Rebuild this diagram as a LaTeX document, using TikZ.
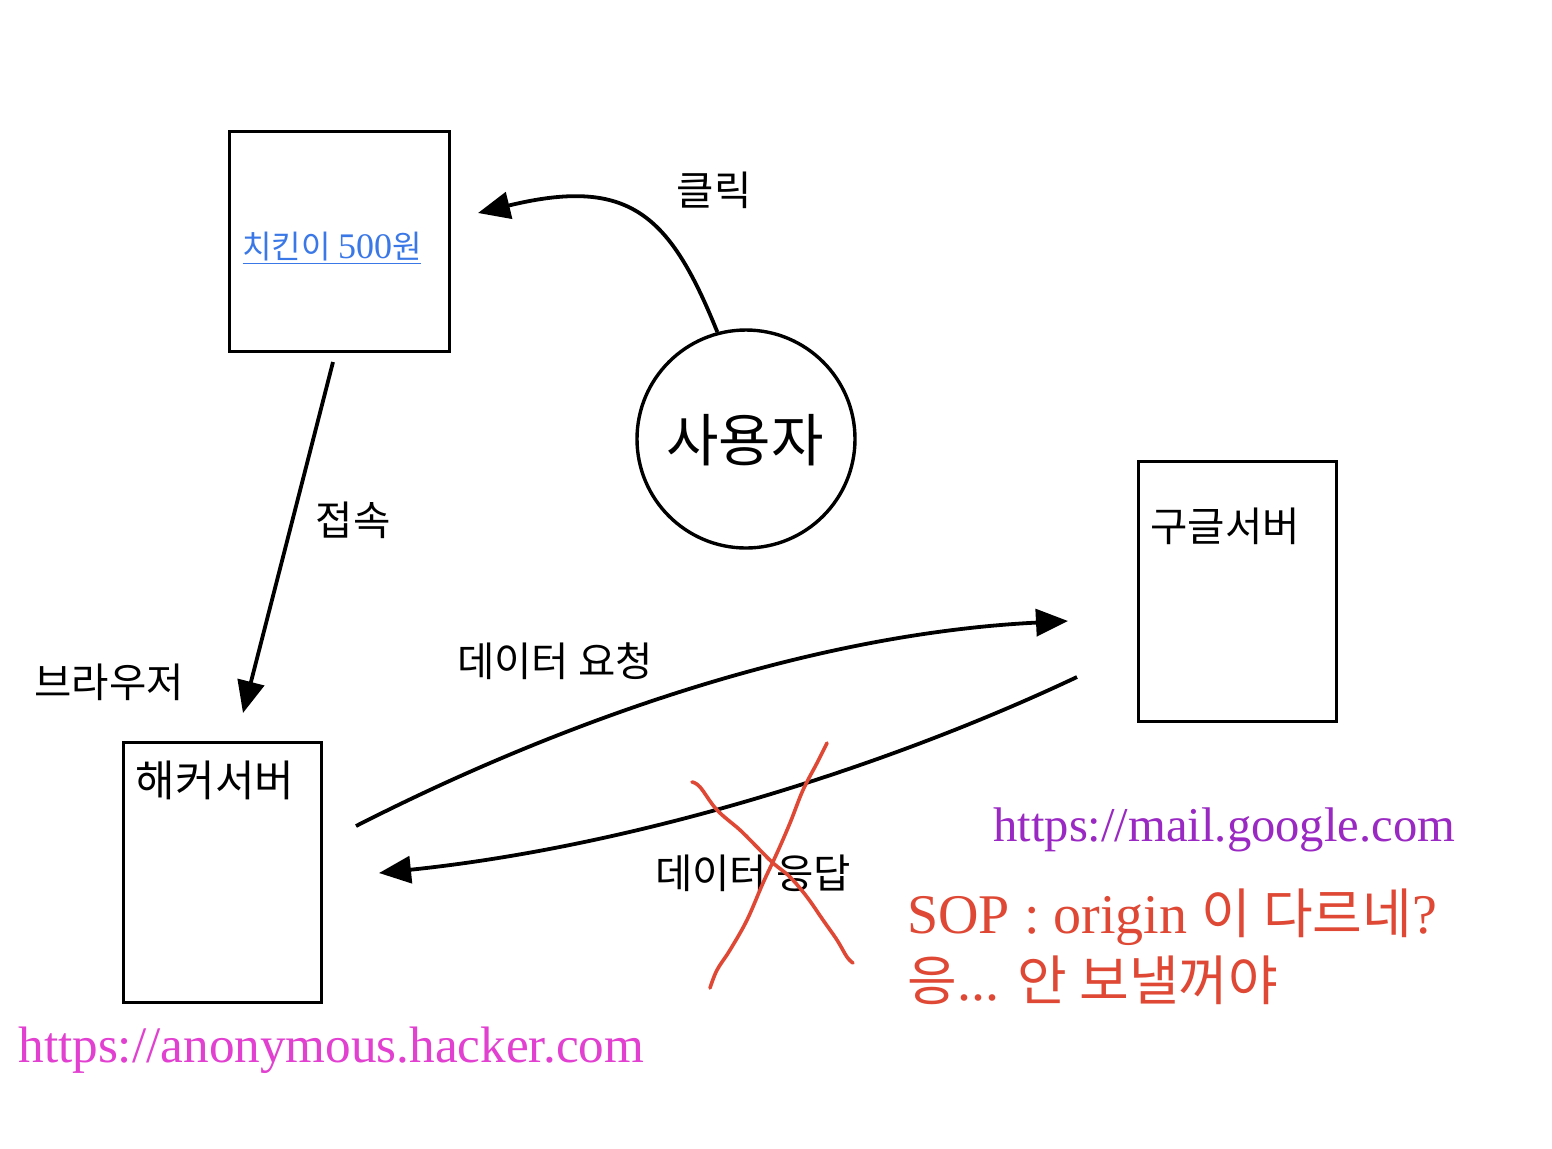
\documentclass[tikz,border=0pt]{standalone}
\usepackage{fontspec}
\setmainfont{Liberation Serif}
\newfontfamily\kr{Noto Sans CJK KR}
\usetikzlibrary{arrows.meta}
\definecolor{linkblue}{RGB}{59,120,231}
\definecolor{hackpink}{RGB}{226,64,208}
\definecolor{gpurple}{RGB}{154,40,194}
\definecolor{sopred}{RGB}{222,72,52}
\tikzset{
  boxnode/.style={draw, line width=1.7pt, inner sep=0pt, anchor=north west},
  lbl/.style={inner sep=0pt, font=\kr\fontsize{20.3pt}{22pt}\selectfont},
  conn/.style={line width=1.9pt, -{Triangle[length=16pt,width=13.5pt]}},
  xmark/.style={sopred, line width=1.8pt, line cap=round, line join=round},
}
\begin{document}
\begin{tikzpicture}[x=0.5pt,y=-0.5pt]
\useasboundingbox[fill=white] (0,0) rectangle (1552,1148);
% boxes
\node[boxnode, minimum width=110pt, minimum height=110pt] (page) at (228,130) {};
\node[boxnode, minimum width=99pt, minimum height=130pt] (hacker) at (122,741) {};
\node[boxnode, minimum width=99pt, minimum height=130pt] (google) at (1137,460) {};
\node[draw, circle, line width=1.7pt, minimum size=109pt, inner sep=0pt] (user) at (746,439) {};
% texts
\node[inner sep=0pt, font=\kr\fontsize{28.5pt}{31pt}\selectfont] (usertxt) at (745,440) {사용자};
\node[inner sep=0pt, text=linkblue, anchor=base] (link) at (332,258) {\underline{\kr\fontsize{16pt}{18pt}\selectfont 치킨이 \fontspec{Liberation Serif}\fontsize{18pt}{20pt}\selectfont 500\kr\fontsize{16pt}{18pt}\selectfont 원}};
\node[lbl] (click) at (714,190) {클릭};
\node[lbl] (connect) at (353,520) {접속};
\node[lbl] (browser) at (109,682) {브라우저};
\node[lbl] (req) at (555,661) {데이터 요청};
\node[lbl] (resp) at (753,873) {데이터 응답};
\node[lbl, font=\kr\fontsize{21.5pt}{23pt}\selectfont] (hackertxt) at (215,780) {해커서버};
\node[lbl] (googletxt) at (1225,526) {구글서버};
\node[inner sep=0pt, anchor=base west, text=hackpink, font=\fontsize{25.6pt}{28pt}\selectfont] (hurl) at (18,1062) {https://anonymous.hacker.com};
\node[inner sep=0pt, anchor=base west, text=gpurple, font=\fontsize{24.3pt}{27pt}\selectfont] (gurl) at (993,841) {https://mail.google.com};
\node[inner sep=0pt, anchor=base west, text=sopred] (sop1) at (907,933) {\fontsize{28pt}{30pt}\selectfont SOP : origin {\kr\fontsize{27pt}{30pt}\selectfont 이 다르네}?};
\node[inner sep=0pt, anchor=base west, text=sopred] (sop2) at (907,1000) {{\kr\fontsize{27pt}{30pt}\selectfont 응}\fontsize{28pt}{30pt}\selectfont ... {\kr\fontsize{27pt}{30pt}\selectfont 안 보낼꺼야}};
% connector endpoints
\coordinate (clickend) at (478,213);
\coordinate (connstart) at (333,362);
\coordinate (connend) at (243,713);
\coordinate (reqstart) at (356,826);
\coordinate (reqend) at (1068,621);
\coordinate (respstart) at (1077,677);
\coordinate (respend) at (379,873);
% connectors
\draw[conn] (user.105) .. controls (670,215) and (630,176) .. (clickend);
\draw[conn] (connstart) -- (connend);
\draw[conn] (reqstart) .. controls (560,722) and (808,634) .. (reqend);
\draw[conn] (respstart) .. controls (880,770) and (629,847) .. (respend);
% red X
\draw[xmark] plot[smooth, tension=0.6] coordinates {(692,782) (700,787) (717,810) (740,830) (757,847) (773,863) (790,877) (807,897) (823,920) (837,940) (847,957) (853,963)};
\draw[xmark] plot[smooth, tension=0.6] coordinates {(827,743) (817,763) (803,790) (790,823) (777,853) (763,883) (747,920) (730,950) (717,970) (710,988)};
\end{tikzpicture}
\end{document}
